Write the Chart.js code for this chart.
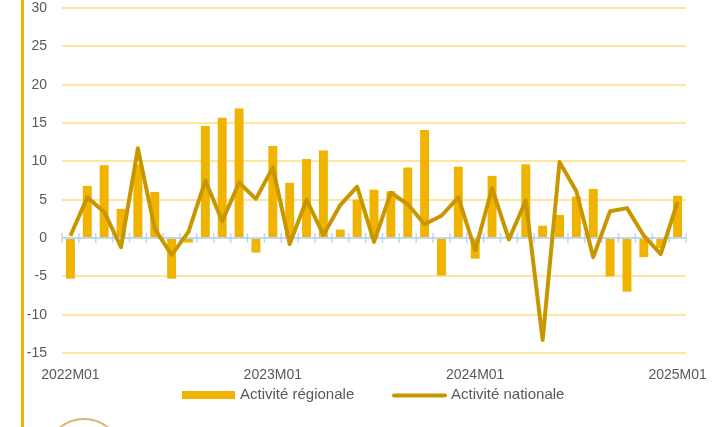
<!DOCTYPE html>
<html>
<head>
<meta charset="utf-8">
<script src="https://cdn.jsdelivr.net/npm/chart.js@4/dist/chart.umd.min.js"></script>
<style>
  html, body { margin: 0; padding: 0; background: #fff; }
  #wrap { width: 722px; height: 427px; position: relative; }
</style>
</head>
<body>
<div id="wrap"><canvas id="chart" width="722" height="427"></canvas></div>
<script>
const months = [
  '2022M01','2022M02','2022M03','2022M04','2022M05','2022M06','2022M07','2022M08','2022M09','2022M10','2022M11','2022M12',
  '2023M01','2023M02','2023M03','2023M04','2023M05','2023M06','2023M07','2023M08','2023M09','2023M10','2023M11','2023M12',
  '2024M01','2024M02','2024M03','2024M04','2024M05','2024M06','2024M07','2024M08','2024M09','2024M10','2024M11','2024M12',
  '2025M01'
];
const shownLabels = ['2022M01', '2023M01', '2024M01', '2025M01'];

const regionale = [
  -5.3, 6.8, 9.5, 3.8, 9.6, 6.0, -5.3, -0.6, 14.6, 15.7, 16.9, -1.9,
  12.0, 7.2, 10.3, 11.4, 1.1, 5.0, 6.3, 6.1, 9.2, 14.1, -4.9, 9.3,
  -2.7, 8.1, 0.2, 9.6, 1.6, 3.0, 5.4, 6.4, -5.0, -7.0, -2.5, -1.3,
  5.5
];
const nationale = [
  0.3, 5.3, 3.4, -1.2, 11.7, 1.2, -2.2, 0.8, 7.5, 2.2, 7.2, 5.1,
  9.2, -0.8, 5.0, 0.4, 4.3, 6.7, -0.5, 5.9, 4.4, 1.8, 2.9, 5.3,
  -1.6, 6.5, -0.2, 4.9, -13.3, 9.9, 6.1, -2.5, 3.5, 3.9, 0.3, -2.1,
  4.7
];
const seriesNames = ['Activité régionale', 'Activité nationale'];

const GOLD = '#F0B400';
const DARK_GOLD = '#C89700';
const GRID = '#FFE59E';
const TEXT = '#595959';
const FONT = "'Liberation Sans', Arial, sans-serif";

// zero axis in light blue with small ticks between categories, drawn over the bars
const zeroAxis = {
  id: 'zeroAxis',
  afterDatasetDraw(chart, args) {
    if (args.meta.type !== 'bar') return;
    const { ctx, chartArea, scales } = chart;
    const y0 = scales.y.getPixelForValue(0);
    ctx.save();
    ctx.strokeStyle = 'rgba(180, 208, 238, 0.85)';
    ctx.lineWidth = 2;
    ctx.beginPath();
    ctx.moveTo(chartArea.left, y0);
    ctx.lineTo(chartArea.right, y0);
    ctx.stroke();
    ctx.lineWidth = 1.5;
    const step = (chartArea.right - chartArea.left) / months.length;
    for (let i = 0; i <= months.length; i++) {
      const x = chartArea.left + i * step;
      ctx.beginPath();
      ctx.moveTo(x, y0 - 5);
      ctx.lineTo(x, y0 + 5);
      ctx.stroke();
    }
    ctx.restore();
  }
};

// legend under the axis, plus the page decorations (left rule, logo arc)
const legendAndDecor = {
  id: 'legendAndDecor',
  afterDraw(chart) {
    const { ctx } = chart;
    ctx.save();
    ctx.fillStyle = GOLD;
    ctx.fillRect(21, 0, 3, 427);

    ctx.strokeStyle = '#D9B66F';
    ctx.lineWidth = 2;
    ctx.beginPath();
    ctx.arc(84, 457, 38, 0, Math.PI * 2);
    ctx.stroke();

    ctx.font = '15px ' + FONT;
    ctx.textBaseline = 'middle';

    ctx.fillStyle = GOLD;
    ctx.fillRect(182, 391, 53, 8);
    ctx.fillStyle = TEXT;
    ctx.fillText(seriesNames[0], 240, 395);

    ctx.strokeStyle = DARK_GOLD;
    ctx.lineWidth = 4;
    ctx.lineCap = 'round';
    ctx.beginPath();
    ctx.moveTo(394, 395.5);
    ctx.lineTo(445, 395.5);
    ctx.stroke();
    ctx.fillText(seriesNames[1], 451, 395);
    ctx.restore();
  }
};

new Chart(document.getElementById('chart'), {
  data: {
    labels: months,
    datasets: [
      {
        type: 'line',
        label: seriesNames[1],
        data: nationale,
        borderColor: DARK_GOLD,
        borderWidth: 4,
        pointRadius: 0,
        tension: 0,
        borderJoinStyle: 'round',
        order: 0
      },
      {
        type: 'bar',
        label: seriesNames[0],
        data: regionale,
        backgroundColor: GOLD,
        barPercentage: 0.53,
        categoryPercentage: 1,
        order: 1
      }
    ]
  },
  options: {
    responsive: false,
    animation: false,
    layout: { padding: { top: 0, right: 36, left: 0, bottom: 0 } },
    plugins: {
      legend: { display: false },
      tooltip: { enabled: false }
    },
    scales: {
      x: {
        grid: { display: false, drawTicks: false },
        border: { display: false },
        ticks: {
          autoSkip: false,
          maxRotation: 0,
          padding: 14,
          color: TEXT,
          font: { family: FONT, size: 14 },
          callback(v, i) { return shownLabels.includes(months[i]) ? months[i] : ''; }
        },
        afterFit(scale) { scale.height = 74; }
      },
      y: {
        min: -15,
        max: 30,
        grid: {
          drawTicks: false,
          lineWidth: 2,
          color: ctx => ctx.tick && ctx.tick.value === 0 ? 'rgba(0,0,0,0)' : GRID
        },
        border: { display: false },
        ticks: {
          stepSize: 5,
          padding: 15,
          color: TEXT,
          font: { family: FONT, size: 14 }
        },
        afterFit(scale) {
          scale.width = 62;
          scale.paddingTop = 8;
          scale.paddingBottom = 0;
        }
      }
    }
  },
  plugins: [zeroAxis, legendAndDecor]
});
</script>
</body>
</html>
